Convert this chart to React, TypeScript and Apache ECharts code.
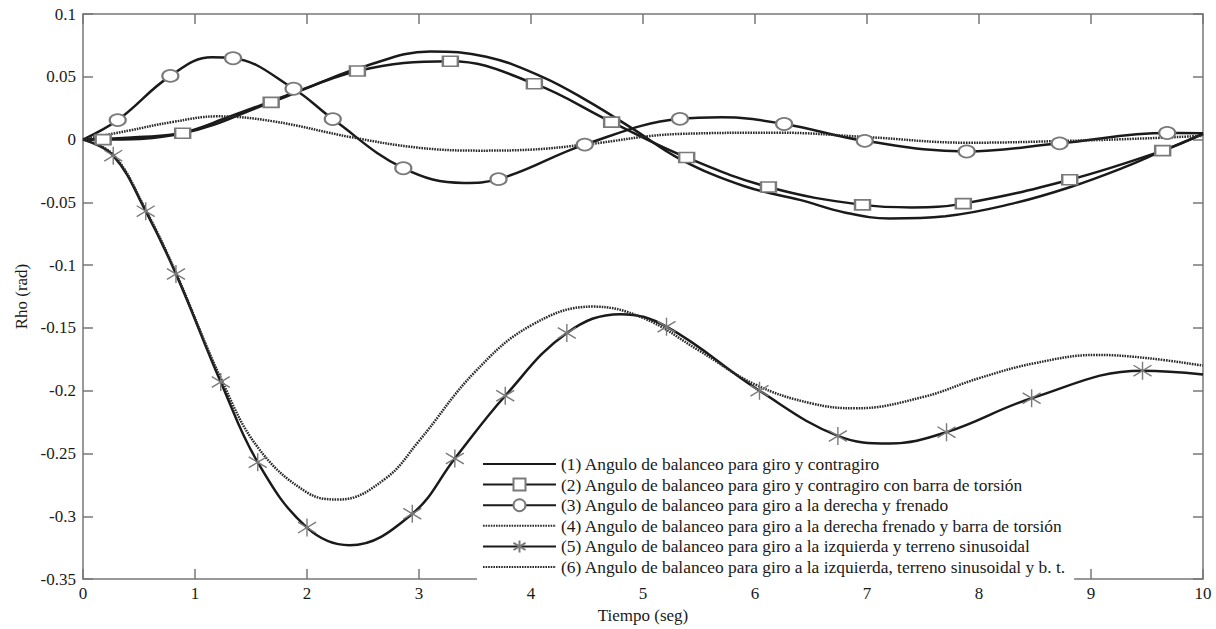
import React, { useEffect, useRef } from "react";
import * as echarts from "echarts";

const seriesNames = [
  "(1) Angulo de balanceo para giro y contragiro",
  "(2) Angulo de balanceo para giro y contragiro con barra de torsión",
  "(3) Angulo de balanceo para giro a la derecha y frenado",
  "(4) Angulo de balanceo para giro a la derecha frenado y barra de torsión",
  "(5) Angulo de balanceo para giro a la izquierda y terreno sinusoidal",
  "(6) Angulo de balanceo para giro a la izquierda, terreno sinusoidal y b. t.",
];

// [tiempo, rho] points of each curve (no markers)
const s1Curve = [
  [0, 0], [0.5, 0.002], [0.89, 0.0055], [1.3, 0.018], [1.68, 0.0305], [2.05, 0.043],
  [2.5, 0.058], [3.1, 0.0702], [3.6, 0.066], [4.1, 0.05], [4.5, 0.031], [4.91, 0.0085],
  [5.33, -0.0155], [5.9, -0.037], [6.4, -0.048], [6.8, -0.058], [7.2, -0.0628],
  [7.7, -0.061], [8.3, -0.051], [8.81, -0.038], [9.3, -0.022], [9.64, -0.009], [10, 0.0045],
];
// markers of series 2 (squares) + unmarked points
const s2Marks = [
  [0.18, 0], [0.89, 0.005], [1.68, 0.0296], [2.45, 0.0546], [3.28, 0.0624], [4.03, 0.0445],
  [4.72, 0.0139], [5.39, -0.0143], [6.12, -0.0378], [6.96, -0.052], [7.86, -0.051],
  [8.81, -0.032], [9.64, -0.0088],
];
const s2Extra = [[0, 0], [7.4, -0.054], [10, 0.0045]];
// series 3 (circles)
const s3Marks = [
  [0.31, 0.0155], [0.78, 0.0507], [1.34, 0.0648], [1.88, 0.0405], [2.23, 0.0163],
  [2.86, -0.0228], [3.71, -0.0315], [4.48, -0.004], [5.33, 0.0165], [6.26, 0.0124],
  [6.98, -0.001], [7.89, -0.0095], [8.72, -0.003], [9.68, 0.0052],
];
const s3Extra = [[0, 0], [1.15, 0.0655], [3.4, -0.0345], [5.7, 0.0178], [10, 0.005]];
// series 4 (dotted)
const s4Curve = [
  [0, 0], [0.4, 0.007], [0.8, 0.014], [1.2, 0.0185], [1.7, 0.0145], [2.4, 0.0018],
  [3.0, -0.0065], [3.54, -0.0088], [4.0, -0.008], [4.48, -0.004], [5.33, 0.0045],
  [6.2, 0.0055], [7.0, 0.002], [7.9, -0.0025], [8.8, -0.001], [9.5, 0.001], [10, 0.003],
];
// series 5 (asterisks)
const s5Marks = [
  [0.27, -0.0128], [0.56, -0.057], [0.83, -0.107], [1.23, -0.193], [1.56, -0.257],
  [2.0, -0.309], [2.94, -0.298], [3.32, -0.254], [3.77, -0.204], [4.32, -0.154],
  [5.21, -0.149], [6.04, -0.2], [6.74, -0.236], [7.71, -0.233], [8.47, -0.206], [9.46, -0.184],
];
const s5Extra = [[0, 0], [2.38, -0.323], [4.8, -0.139], [7.2, -0.242], [10, -0.187]];
// series 6 (dotted)
const s6Curve = [
  [0, 0], [0.27, -0.012], [0.56, -0.056], [0.83, -0.106], [1.23, -0.19], [1.56, -0.245],
  [2.0, -0.281], [2.29, -0.2866], [2.7, -0.27], [3.0, -0.24], [3.5, -0.185], [4.0, -0.148],
  [4.55, -0.133], [5.0, -0.142], [5.5, -0.168], [6.0, -0.195], [6.5, -0.21], [6.9, -0.214],
  [7.5, -0.205], [8.0, -0.19], [8.5, -0.178], [9.05, -0.1715], [9.5, -0.174], [10, -0.18],
];

const FONT = "'Liberation Serif', 'Times New Roman', serif";
const ASTERISK = "path://M0,-10L0,10M-9,-6L9,6M-9,6L9,-6";

function merge(marks: number[][], extra: number[][]) {
  const items = [
    ...marks.map((p) => ({ value: p, mark: true })),
    ...extra.map((p) => ({ value: p, mark: false })),
  ].sort((a, b) => a.value[0] - b.value[0]);
  return items.map((it) => (it.mark ? { value: it.value } : { value: it.value, symbol: "none" }));
}

export default function App() {
  const ref = useRef<HTMLDivElement>(null);
  useEffect(() => {
    document.body.style.margin = "0";
    const chart = echarts.init(ref.current!, null, { renderer: "svg" });
    const line = (color: string, type: any = "solid") => ({ color, width: 2.5, type });
    const base = {
      type: "line",
      smooth: 0.4,
      showAllSymbol: true,
      xAxisIndex: 0,
      yAxisIndex: 0,
    };
    const markerStyle = { color: "#7a7a7a", borderColor: "#7a7a7a", borderWidth: 1.4 };
    const noMark = { color: "rgba(0,0,0,0)", borderColor: "rgba(0,0,0,0)" };
    const axisLine = { onZero: false, lineStyle: { color: "#777", width: 1.5 } };
    const axisTick = { inside: true, length: 10, lineStyle: { color: "#777", width: 1.5 } };
    chart.setOption({
      animation: false,
      backgroundColor: "#fff",
      grid: { left: 83, right: 13, top: 14, bottom: 40 },
      xAxis: [
        {
          type: "value",
          min: 0,
          max: 10,
          interval: 1,
          name: "Tiempo (seg)",
          nameLocation: "middle",
          nameGap: 27,
          nameTextStyle: { fontFamily: FONT, fontSize: 17, color: "#1a1a1a" },
          axisLine,
          axisTick,
          axisLabel: { fontFamily: FONT, fontSize: 17, color: "#1a1a1a", margin: 6 },
          splitLine: { show: false },
        },
        {
          type: "value",
          position: "top",
          min: 0,
          max: 10,
          interval: 1,
          axisLine,
          axisTick,
          axisLabel: { show: false },
          splitLine: { show: false },
        },
      ],
      yAxis: [
        {
          type: "value",
          min: -0.35,
          max: 0.1,
          interval: 0.05,
          name: "Rho (rad)",
          nameLocation: "middle",
          nameGap: 39,
          nameTextStyle: { fontFamily: FONT, fontSize: 17, color: "#1a1a1a" },
          axisLine,
          axisTick,
          axisLabel: {
            fontFamily: FONT,
            fontSize: 17,
            color: "#1a1a1a",
            margin: 7,
            formatter: (v: number) => String(Math.round(v * 100) / 100),
          },
          splitLine: { show: false },
        },
        {
          type: "value",
          position: "right",
          min: -0.35,
          max: 0.1,
          interval: 0.05,
          axisLine,
          axisTick,
          axisLabel: { show: false },
          splitLine: { show: false },
        },
      ],
      legend: {
        orient: "vertical",
        left: 477,
        top: 452,
        itemWidth: 73,
        itemHeight: 15,
        itemGap: 2.6,
        padding: [3, 8, 4, 5],
        backgroundColor: "#fff",
        textStyle: { fontFamily: FONT, fontSize: 17.4, lineHeight: 18, color: "#1a1a1a" },
        data: seriesNames,
      },
      series: [
        {
          ...base,
          name: seriesNames[0],
          symbol: "none",
          lineStyle: line("#1a1a1a"),
          itemStyle: noMark,
          data: s1Curve,
        },
        {
          ...base,
          name: seriesNames[1],
          symbol: "emptyRect",
          symbolSize: [15, 10],
          lineStyle: line("#1a1a1a"),
          itemStyle: markerStyle,
          data: merge(s2Marks, s2Extra),
        },
        {
          ...base,
          name: seriesNames[2],
          symbol: "emptyCircle",
          symbolSize: [16, 12],
          lineStyle: line("#1a1a1a"),
          itemStyle: markerStyle,
          data: merge(s3Marks, s3Extra),
        },
        {
          ...base,
          name: seriesNames[3],
          symbol: "none",
          lineStyle: line("#2a2a2a", [1.6, 1]),
          itemStyle: noMark,
          data: s4Curve,
        },
        {
          ...base,
          name: seriesNames[4],
          symbol: ASTERISK,
          symbolSize: [18, 18],
          lineStyle: line("#1a1a1a"),
          itemStyle: markerStyle,
          data: merge(s5Marks, s5Extra),
        },
        {
          ...base,
          name: seriesNames[5],
          symbol: "none",
          lineStyle: line("#2a2a2a", [1.6, 1]),
          itemStyle: noMark,
          data: s6Curve,
        },
      ],
    });
    return () => chart.dispose();
  }, []);
  return <div ref={ref} style={{ width: 1216, height: 629 }} />;
}
